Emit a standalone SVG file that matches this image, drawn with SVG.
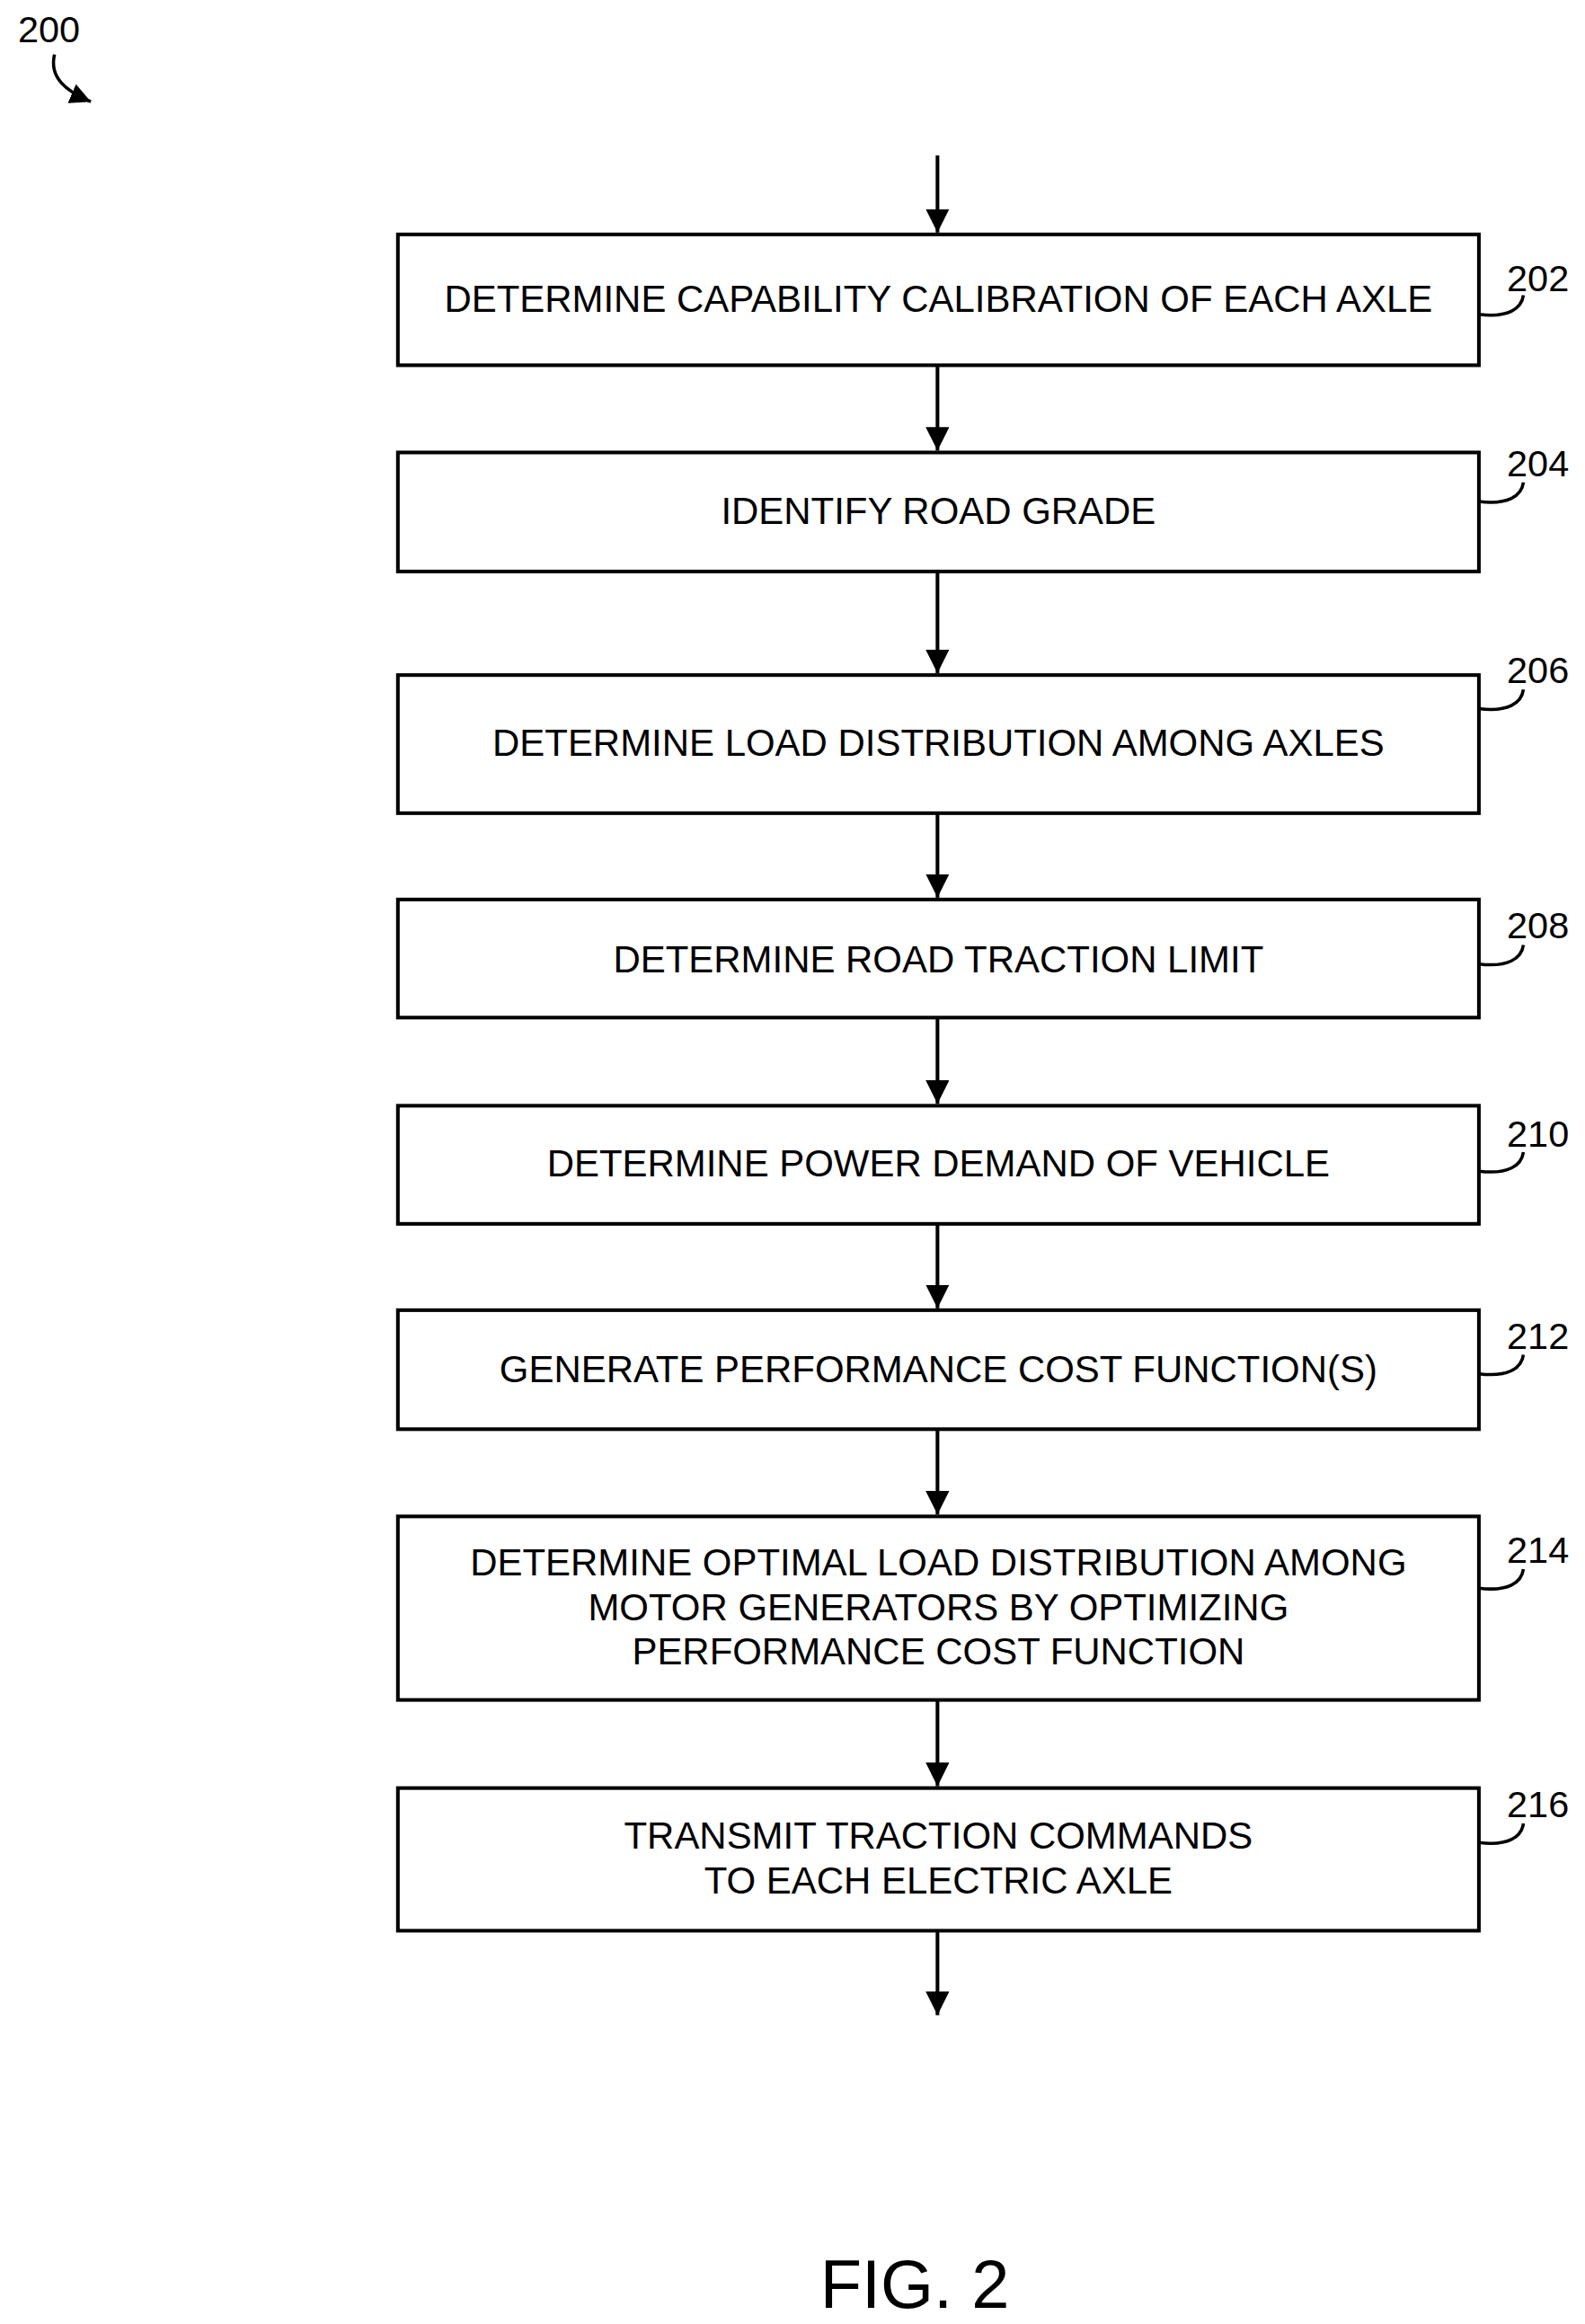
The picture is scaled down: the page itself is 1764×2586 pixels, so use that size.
<svg xmlns="http://www.w3.org/2000/svg" width="1764" height="2586" viewBox="0 0 1764 2586">
<defs>
<style>
.box{fill:#fff;stroke:#000;stroke-width:4}
.t{font-family:"Liberation Sans",Arial,sans-serif;font-size:41.5px;text-anchor:middle;fill:#000}
.n{font-family:"Liberation Sans",Arial,sans-serif;font-size:41px;text-anchor:middle;fill:#000}
.c{stroke:#000;stroke-width:4;fill:none}
.l{stroke:#000;stroke-width:3.5;fill:none}
</style>
<marker id="b" viewBox="0 0 10 10" refX="10" refY="5" markerWidth="6.5" markerHeight="6.5" orient="auto"><path d="M0,0L10,5L0,10z" fill="#000"/></marker>
</defs>
<rect width="1764" height="2586" fill="#fff"/>
<g transform="scale(1.011)">
<g id="ref200">
<text class="n" x="54" y="46">200</text>
<path class="l" d="M60,60 C54,85 72,100 100,112" marker-end="url(#b)"/>
</g>
<g id="connectors">
<path class="c" d="M1032,171V256" marker-end="url(#b)"/>
<path class="c" d="M1032,402V496" marker-end="url(#b)"/>
<path class="c" d="M1032,629V741" marker-end="url(#b)"/>
<path class="c" d="M1032,895V988" marker-end="url(#b)"/>
<path class="c" d="M1032,1120V1215" marker-end="url(#b)"/>
<path class="c" d="M1032,1347V1440" marker-end="url(#b)"/>
<path class="c" d="M1032,1573V1667" marker-end="url(#b)"/>
<path class="c" d="M1032,1871V1966" marker-end="url(#b)"/>
<path class="c" d="M1032,2125V2218" marker-end="url(#b)"/>
</g>
<g id="n202"><rect class="box" x="438" y="258" width="1190" height="144"/><text class="t" x="1033" y="343">DETERMINE CAPABILITY CALIBRATION OF EACH AXLE</text><text class="n" x="1693" y="320">202</text><path class="l" d="M1628,346 C1660,350 1675,340 1677,325"/></g>
<g id="n204"><rect class="box" x="438" y="498" width="1190" height="131"/><text class="t" x="1033" y="577">IDENTIFY ROAD GRADE</text><text class="n" x="1693" y="524">204</text><path class="l" d="M1628,552 C1660,556 1675,546 1677,531"/></g>
<g id="n206"><rect class="box" x="438" y="743" width="1190" height="152"/><text class="t" x="1033" y="832">DETERMINE LOAD DISTRIBUTION AMONG AXLES</text><text class="n" x="1693" y="752">206</text><path class="l" d="M1628,780 C1660,784 1675,774 1677,759"/></g>
<g id="n208"><rect class="box" x="438" y="990" width="1190" height="130"/><text class="t" x="1033" y="1070">DETERMINE ROAD TRACTION LIMIT</text><text class="n" x="1693" y="1033">208</text><path class="l" d="M1628,1061 C1660,1065 1675,1055 1677,1040"/></g>
<g id="n210"><rect class="box" x="438" y="1217" width="1190" height="130"/><text class="t" x="1033" y="1295">DETERMINE POWER DEMAND OF VEHICLE</text><text class="n" x="1693" y="1262">210</text><path class="l" d="M1628,1289 C1660,1293 1675,1283 1677,1268"/></g>
<g id="n212"><rect class="box" x="438" y="1442" width="1190" height="131"/><text class="t" x="1033" y="1521">GENERATE PERFORMANCE COST FUNCTION(S)</text><text class="n" x="1693" y="1485">212</text><path class="l" d="M1628,1512 C1660,1516 1675,1506 1677,1491"/></g>
<g id="n214"><rect class="box" x="438" y="1669" width="1190" height="202"/><text class="t" x="1033" y="1734">DETERMINE OPTIMAL LOAD DISTRIBUTION AMONG</text><text class="t" x="1033" y="1783">MOTOR GENERATORS BY OPTIMIZING</text><text class="t" x="1033" y="1832">PERFORMANCE COST FUNCTION</text><text class="n" x="1693" y="1720">214</text><path class="l" d="M1628,1748 C1660,1752 1675,1742 1677,1727"/></g>
<g id="n216"><rect class="box" x="438" y="1968" width="1190" height="157"/><text class="t" x="1033" y="2035">TRANSMIT TRACTION COMMANDS</text><text class="t" x="1033" y="2084">TO EACH ELECTRIC AXLE</text><text class="n" x="1693" y="2000">216</text><path class="l" d="M1628,2028 C1660,2032 1675,2022 1677,2007"/></g>
<text class="t" x="1007" y="2540" style="font-size:75px">FIG. 2</text>
</g>
</svg>
